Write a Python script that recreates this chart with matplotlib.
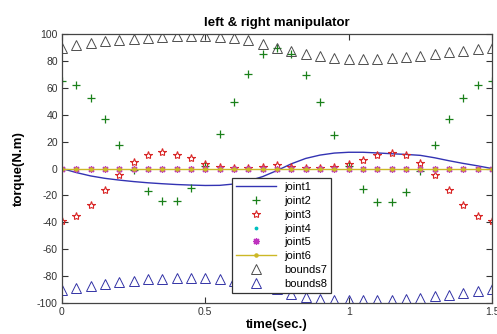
import numpy as np
import matplotlib
matplotlib.use("Agg")
import matplotlib.pyplot as plt

plt.rcParams['font.family'] = ['Liberation Sans', 'DejaVu Sans']
plt.rcParams['axes.unicode_minus'] = False

# time samples (s)
t = np.arange(31) * 0.05

joint1 = [0, -3, -5.5, -7.3, -8.6, -9.7, -10.6, -11.3, -11.9, -12.3, -12.6,
          -12.5, -11.5, -9.3, -6, -1.5, 3.5, 7.5, 10, 11.5, 12.1, 12.1, 11.6,
          11, 10.5, 9.8, 8, 5.8, 3.8, 2, 0]
joint2 = [65.4, 62.2, 52.3, 37, 17.6, -1, -16.9, -24.5, -24.5, -14.6, 2,
          25.8, 49.3, 70.4, 85.3, 89.7, 85.3, 69.9, 49.3, 25.3, 2, -15.1, -25,
          -25, -17.1, -1.5, 17.8, 37, 52.3, 62.2, 65.4]
joint3 = [-39.2, -35.4, -27, -15.9, -4.5, 5.2, 10.4, 12.1, 10.4, 7.7, 3.5,
          1.5, 0.5, 0.5, 1.5, 2.5, 1.5, 0.5, 0.5, 1.5, 3.5, 6.7, 9.7, 11.4,
          10.2, 4.2, -4.7, -15.6, -26.8, -35, -38.7]
joint4 = [0] * 31
joint5 = [0] * 31
joint6 = [0] * 31
bounds7 = [90, 92, 93.5, 94.7, 95.7, 96.6, 97.2, 97.8, 98.2, 98.2, 98.2,
           97.6, 96.8, 95.5, 92.8, 89.6, 87.2, 85.3, 83.5, 82.3, 81.8, 81.6,
           81.8, 82.3, 83, 84, 85.3, 86.4, 87.7, 89, 89.7]
bounds8 = [-90, -88.5, -87, -85.7, -84.5, -83.3, -82.5, -82, -81.6, -81.6,
           -81.6, -82, -83.5, -85.3, -87.2, -89.6, -93.2, -95.2, -96.9, -98.1,
           -98.1, -98.1, -98.1, -97.4, -96.9, -96.4, -94.9, -93.9, -92.4,
           -90.9, -89.4]

fig = plt.figure(figsize=(4.97, 3.34), dpi=100)
ax = fig.add_axes([0.1247, 0.0928, 0.8652, 0.8052])

ax.plot(t, joint1, color=(0.2, 0.2, 0.7), lw=1, label='joint1')
ax.plot(t, joint2, '+', color=(0.1, 0.5, 0.1), ms=5.5, mew=0.9, label='joint2')
ax.plot(t, joint3, '*', color=(0.85, 0.15, 0.15), mfc='none', ms=6,
        mew=0.8, label='joint3')
ax.plot(t, joint4, '.', color=(0, 0.75, 0.75), ms=3.5, label='joint4')
ax.plot(t, joint5, ls='none', marker=(8, 2, 0), color=(0.75, 0.2, 0.75),
        ms=5, mew=0.9, label='joint5')
ax.plot(t, joint6, '.-', color=(0.8, 0.72, 0.15), lw=1, ms=4.5,
        label='joint6')
ax.plot(t, bounds7, '^', color=(0.3, 0.3, 0.3), mfc='none', ms=6.5,
        mew=0.7, label='bounds7')
ax.plot(t, bounds8, '^', color=(0.2, 0.2, 0.65), mfc='none', ms=6.5,
        mew=0.7, label='bounds8')

ax.set_xlim(0, 1.5)
ax.set_ylim(-100, 100)
ax.set_xticks([0, 0.5, 1, 1.5])
ax.set_xticklabels(['0', '0.5', '1', '1.5'])
ax.set_yticks(np.arange(-100, 101, 20))
ax.tick_params(direction='in', length=4, width=0.8, top=True, right=True,
               labelsize=7.5, colors='#333333', pad=3)
for s in ax.spines.values():
    s.set_color('#444444')
    s.set_linewidth(0.9)

ax.set_title('left & right manipulator', fontsize=9.5, fontweight='bold',
             pad=6)
ax.set_xlabel('time(sec.)', fontsize=9.5, fontweight='bold', labelpad=1)
ax.set_ylabel('torque(N.m)', fontsize=9.5, fontweight='bold', labelpad=9)

leg = ax.legend(loc='upper left', bbox_to_anchor=(0.396, 0.4636), fontsize=8,
                labelspacing=0.34, handlelength=3.6, handletextpad=0.75,
                borderpad=0.35, borderaxespad=0, fancybox=False, framealpha=1,
                edgecolor='#333333')
leg.get_frame().set_linewidth(0.9)

fig.savefig('out.png', dpi=100)
